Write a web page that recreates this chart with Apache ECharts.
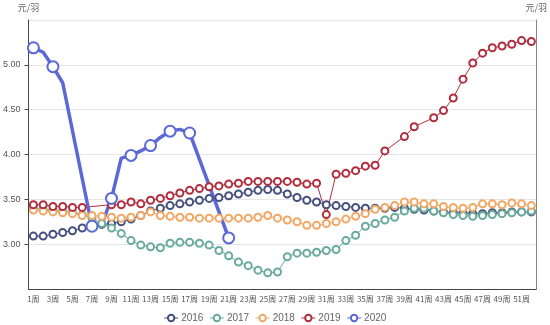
<!DOCTYPE html>
<html><head><meta charset="utf-8">
<script src="https://cdn.jsdelivr.net/npm/echarts@6/dist/echarts.min.js"></script>
<style>html,body{margin:0;padding:0;background:#fff}#c{width:550px;height:325px}</style>
</head><body><div id="c"></div>
<script>
var weeks = ['1周','2周','3周','4周','5周','6周','7周','8周','9周','10周','11周','12周','13周','14周','15周','16周','17周','18周','19周','20周','21周','22周','23周','24周','25周','26周','27周','28周','29周','30周','31周','32周','33周','34周','35周','36周','37周','38周','39周','40周','41周','42周','43周','44周','45周','46周','47周','48周','49周','50周','51周','52周'];
var s2016 = [3.09,3.09,3.11,3.13,3.15,3.18,3.20,3.22,3.23,3.25, 3.28,3.32,3.37,3.40,3.43,3.45,3.47,3.49,3.51,3.52, 3.54,3.56,3.58,3.60,3.61,3.60,3.56,3.52,3.49,3.47, 3.44,3.43,3.42,3.41,3.40,3.40,3.40,3.41,3.40,3.39, 3.38,3.37,3.36,3.35,3.35,3.34,3.34,3.35,3.35,3.36, 3.36,3.36];
var s2017 = [3.40,3.39,3.38,3.37,3.36,3.33,3.29,3.23,3.18,3.12, 3.04,2.99,2.97,2.96,3.01,3.02,3.02,3.01,2.99,2.93, 2.87,2.80,2.76,2.71,2.68,2.69,2.86,2.90,2.90,2.91, 2.93,2.94,3.04,3.10,3.20,3.23,3.27,3.30,3.37,3.40, 3.40,3.37,3.35,3.33,3.32,3.31,3.32,3.33,3.34,3.35, 3.36,3.37];
var s2018 = [3.38,3.37,3.36,3.35,3.34,3.32,3.32,3.31,3.30,3.29, 3.30,3.32,3.36,3.32,3.31,3.30,3.30,3.29,3.29,3.29, 3.29,3.29,3.29,3.30,3.32,3.29,3.27,3.25,3.21,3.21, 3.23,3.25,3.28,3.31,3.34,3.39,3.41,3.43,3.47,3.47, 3.45,3.45,3.42,3.41,3.40,3.41,3.45,3.45,3.44,3.46, 3.45,3.43];
var s2019 = [3.44,3.44,3.42,3.42,3.41,3.41,null,null,3.44,3.44, 3.47,3.45,3.49,3.51,3.54,3.57,3.60,3.62,3.64,3.65, 3.67,3.68,3.70,3.70,3.70,3.70,3.70,3.69,3.67,3.68, 3.33,3.78,3.79,3.82,3.87,3.88,4.04,null,4.20,4.31, null,4.41,4.49,4.63,4.84,5.02,5.13,5.19,5.21,5.23, 5.27,5.26];
var s2020 = [5.19,5.14,4.98,4.80,null,null,3.20,3.22,3.51,3.96, 3.99,4.04,4.10,4.19,4.26,4.28,4.24,null,null,null, 3.07];
var seriesNames = ['2016','2017','2018','2019','2020'];
var colors = ['#46507e','#6aab9b','#f2a865','#b02e3e','#5a68d8'];
var yMin = 2.5, yMax = 5.5, yStep = 0.5;
var unit = '元/羽';

var chart = echarts.init(document.getElementById('c'), null, {renderer:'canvas'});
function mk(name, data, idx, big) {
  return {
    name: name, type: 'line', data: data, connectNulls: true,
    symbol: 'emptyCircle', symbolSize: big ? 11 : 7,
    showAllSymbol: big ? 'auto' : true,
    itemStyle: {color: colors[idx], borderWidth: big ? 2 : 1},
    lineStyle: {width: big ? 3.5 : 1, color: colors[idx]},
    emphasis: {disabled: true}, animation: false
  };
}
var yLabel = {fontSize: 9, color: '#555', showMinLabel: false, showMaxLabel: false,
  formatter: function(v){ return v.toFixed(2); }};
chart.setOption({
  animation: false,
  color: colors,
  grid: {left: 23, right: 12, top: 20, bottom: 36, containLabel: false},
  legend: {
    data: seriesNames, top: 308, left: 'center', itemWidth: 14, itemHeight: 8, itemGap: 6,
    itemStyle: {borderWidth: 1},
    lineStyle: {width: 1},
    textStyle: {fontSize: 10, color: '#666', fontFamily: 'Liberation Sans', padding: [0,0,0,-2]}
  },
  xAxis: {
    type: 'category', data: weeks, boundaryGap: true,
    axisLine: {lineStyle: {color: '#444'}},
    axisTick: {alignWithLabel: true, interval: 1, length: 4},
    axisLabel: {interval: 1, fontSize: 8, color: '#555', margin: 6, fontFamily: 'Noto Sans CJK SC'},
    splitLine: {show: false}
  },
  yAxis: [{
    type: 'value', min: yMin, max: yMax, interval: yStep, position: 'left',
    name: unit, nameGap: 8, nameTextStyle: {fontSize: 9, color: '#666', fontFamily: 'Noto Sans CJK SC'},
    axisLine: {show: true, lineStyle: {color: '#444'}},
    axisTick: {show: true, length: 4},
    axisLabel: yLabel,
    splitLine: {lineStyle: {color: '#e6e6e6'}}
  }, {
    type: 'value', min: yMin, max: yMax, interval: yStep, position: 'right',
    name: unit, nameGap: 8, nameTextStyle: {fontSize: 9, color: '#666', fontFamily: 'Noto Sans CJK SC'},
    axisLine: {show: true, lineStyle: {color: '#888'}},
    axisTick: {show: false}, axisLabel: {show: false}, splitLine: {show: false}
  }],
  series: [
    mk(seriesNames[0], s2016, 0, false),
    mk(seriesNames[1], s2017, 1, false),
    mk(seriesNames[2], s2018, 2, false),
    mk(seriesNames[3], s2019, 3, false),
    mk(seriesNames[4], s2020, 4, true)
  ]
});
</script></body></html>
